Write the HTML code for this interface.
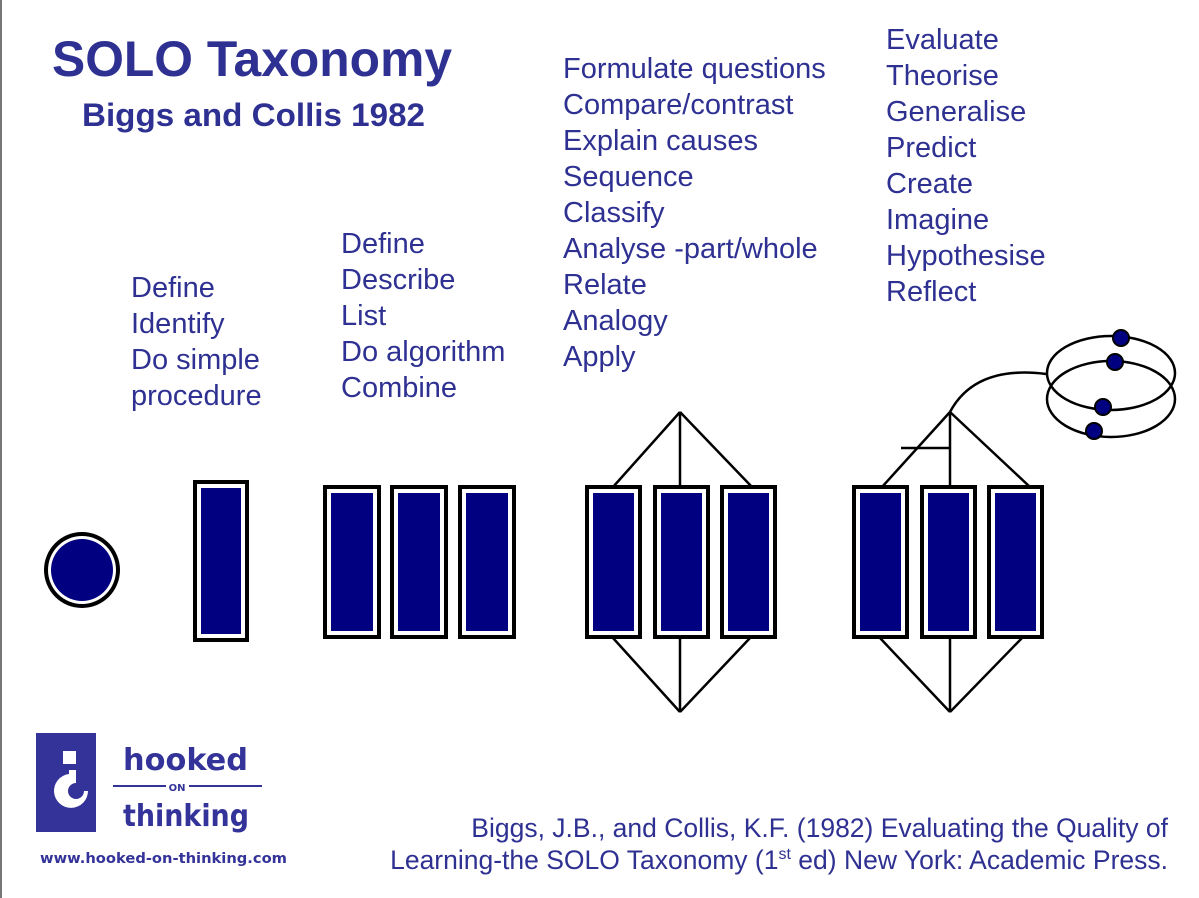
<!DOCTYPE html>
<html><head><meta charset="utf-8"><style>
html,body{margin:0;padding:0;background:#fff;}
svg{display:block}
</style></head><body>
<svg width="1199" height="898" viewBox="0 0 1199 898" xmlns="http://www.w3.org/2000/svg">
<rect x="0" y="0" width="1199" height="898" fill="#fff"/>
<line x1="1" y1="0" x2="1" y2="898" stroke="#777" stroke-width="2"/>
<g fill="#2e3192" font-family="'Liberation Sans',sans-serif">
<text x="52" y="76" font-size="50" font-weight="bold" textLength="400" lengthAdjust="spacingAndGlyphs">SOLO Taxonomy</text>
<text x="82" y="126" font-size="32" font-weight="bold" textLength="343" lengthAdjust="spacingAndGlyphs">Biggs and Collis 1982</text>
</g>
<g fill="#2e3192" font-family="'Liberation Sans',sans-serif" font-size="29">
<text x="131" y="297">Define</text><text x="131" y="333">Identify</text><text x="131" y="369">Do simple</text><text x="131" y="405">procedure</text>
<text x="341" y="253">Define</text><text x="341" y="289">Describe</text><text x="341" y="325">List</text><text x="341" y="361">Do algorithm</text><text x="341" y="397">Combine</text>
<text x="563" y="78">Formulate questions</text><text x="563" y="114">Compare/contrast</text><text x="563" y="150">Explain causes</text><text x="563" y="186">Sequence</text><text x="563" y="222">Classify</text><text x="563" y="258">Analyse -part/whole</text><text x="563" y="294">Relate</text><text x="563" y="330">Analogy</text><text x="563" y="366">Apply</text>
<text x="886" y="49">Evaluate</text><text x="886" y="85">Theorise</text><text x="886" y="121">Generalise</text><text x="886" y="157">Predict</text><text x="886" y="193">Create</text><text x="886" y="229">Imagine</text><text x="886" y="265">Hypothesise</text><text x="886" y="301">Reflect</text>
</g>
<g fill="#2e3192" font-family="'Liberation Sans',sans-serif" font-size="26.5" text-anchor="end">
<text x="1168" y="837">Biggs, J.B., and Collis, K.F. (1982) Evaluating the Quality of</text>
<text x="1168" y="869">Learning-the SOLO Taxonomy (1<tspan font-size="16" dy="-10">st</tspan><tspan dy="10"> ed) New York: Academic Press.</tspan></text>
</g>
<circle cx="82" cy="570" r="38" fill="#000"/>
<circle cx="82" cy="570" r="34" fill="#fff"/>
<circle cx="82" cy="570" r="31" fill="#000080"/>
<g stroke="#000" stroke-width="4" fill="#fff">
<rect x="195" y="482" width="52" height="158"/>
<rect x="325" y="487" width="54" height="150"/><rect x="392" y="487" width="54" height="150"/><rect x="460" y="487" width="54" height="150"/>
<rect x="587" y="487" width="53" height="150"/><rect x="655" y="487" width="53" height="150"/><rect x="722" y="487" width="53" height="150"/>
<rect x="854" y="487" width="53" height="150"/><rect x="922" y="487" width="53" height="150"/><rect x="989" y="487" width="53" height="150"/>
</g>
<g fill="#000080">
<rect x="201" y="488" width="40" height="146"/>
<rect x="331" y="493" width="42" height="138"/><rect x="398" y="493" width="42" height="138"/><rect x="466" y="493" width="42" height="138"/>
<rect x="593" y="493" width="41" height="138"/><rect x="661" y="493" width="41" height="138"/><rect x="728" y="493" width="41" height="138"/>
<rect x="860" y="493" width="41" height="138"/><rect x="928" y="493" width="41" height="138"/><rect x="995" y="493" width="41" height="138"/>
</g>
<g stroke="#000" stroke-width="2.5" fill="none">
<path d="M680 412 L613 487 M680 412 L680 487 M680 412 L752 487 M680 712 L613 638 M680 712 L680 638 M680 712 L750 638"/>
<path d="M950 412 L882 487 M950 412 L950 487 M950 412 L1030 487 M950 712 L880 638 M950 712 L950 638 M950 712 L1022 638"/>
<path d="M901 448 L951 448"/>
<path d="M950 412 Q975 365 1046 374"/>
<ellipse cx="1111" cy="373" rx="64" ry="37"/>
<ellipse cx="1111" cy="399" rx="64" ry="38"/>
</g>
<g fill="#000080" stroke="#000" stroke-width="2">
<circle cx="1121" cy="338" r="8"/><circle cx="1115" cy="362" r="8"/><circle cx="1103" cy="407" r="8"/><circle cx="1094" cy="431" r="8"/>
</g>
<rect x="36" y="733" width="60" height="99" fill="#333399"/>
<rect x="63" y="751" width="13" height="13" fill="#fff"/>
<path d="M76 770 L76 783 A8 8 0 1 0 84 791 L88 791 A17 17 0 1 1 69 774 L69 770 Z" fill="#fff"/>
<g fill="#333399" font-family="'DejaVu Sans','Liberation Sans',sans-serif" font-weight="bold">
<text x="123" y="770" font-size="30" textLength="125" lengthAdjust="spacingAndGlyphs">hooked</text>
<text x="177" y="791" font-size="10" text-anchor="middle">ON</text>
<text x="123" y="826" font-size="30" textLength="126" lengthAdjust="spacingAndGlyphs">thinking</text>
<text x="40" y="863" font-size="14" textLength="247" lengthAdjust="spacingAndGlyphs">www.hooked-on-thinking.com</text>
</g>
<path d="M113 786 L166 786 M189 786 L262 786" stroke="#333399" stroke-width="2"/>
</svg>
</body></html>
